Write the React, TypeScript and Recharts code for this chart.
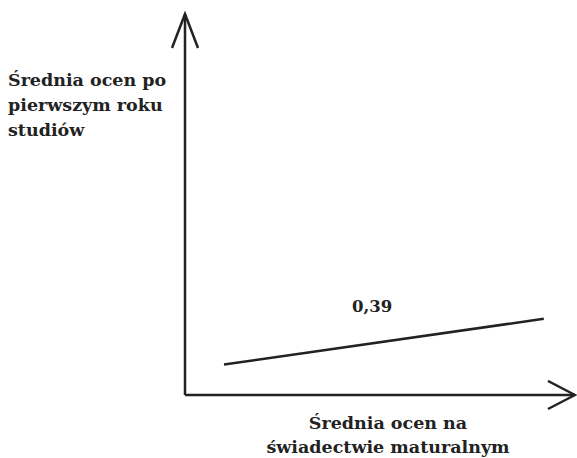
import { LineChart, Line, XAxis, YAxis, ReferenceDot } from 'recharts'

// two ends of the fitted line (arbitrary units)
const xValues = [1, 9.2]
const yValues = [0.8, 2.0]
const coefficient = '0,39'
const coefPos = { x: 4.8, y: 2.05 }

const yTitle = ['Średnia ocen po', 'pierwszym roku', 'studiów']
const xTitle = ['Średnia ocen na', 'świadectwie maturalnym']

const data = xValues.map((x, i) => ({ x, y: yValues[i] }))

const INK = '#222'
const FONT = '"DejaVu Serif", serif'

export default function App() {
    return (
        <div style={{ position: 'absolute', left: 0, top: 0, background: '#fff' }}>
            <LineChart
                width={577}
                height={458}
                data={data}
                margin={{ top: 14, right: 2, bottom: 62, left: 184 }}
            >
                <defs>
                    <marker id="arrowY" markerUnits="userSpaceOnUse" markerWidth={40} markerHeight={40}
                        viewBox="0 0 40 40" refX={35} refY={14} orient="auto-start-reverse">
                        <path d="M1,1 L35,14 L1,27" fill="none" stroke={INK} strokeWidth={2.5} />
                    </marker>
                    <marker id="arrowX" markerUnits="userSpaceOnUse" markerWidth={40} markerHeight={40}
                        viewBox="0 0 40 40" refX={28} refY={15} orient="auto-start-reverse">
                        <path d="M1,1 L28,15 L1,29" fill="none" stroke={INK} strokeWidth={2.5} />
                    </marker>
                </defs>
                <XAxis
                    type="number"
                    dataKey="x"
                    domain={[0, 10]}
                    height={1}
                    tick={false}
                    tickLine={false}
                    axisLine={{ stroke: INK, strokeWidth: 2.5, markerEnd: 'url(#arrowX)' }}
                />
                <YAxis
                    type="number"
                    dataKey="y"
                    domain={[0, 10]}
                    width={1}
                    tick={false}
                    tickLine={false}
                    axisLine={{ stroke: INK, strokeWidth: 2.5, markerStart: 'url(#arrowY)' }}
                />
                <Line
                    type="linear"
                    dataKey="y"
                    stroke={INK}
                    strokeWidth={2.5}
                    dot={false}
                    isAnimationActive={false}
                />
                <ReferenceDot
                    x={coefPos.x}
                    y={coefPos.y}
                    r={0}
                    fill="none"
                    stroke="none"
                    label={{
                        value: coefficient,
                        position: 'top',
                        fill: INK,
                        fontSize: 16.5,
                        fontWeight: 'bold',
                        fontFamily: FONT,
                    }}
                />
                <text x={8} y={86} fill={INK} fontFamily={FONT} fontWeight="bold" fontSize={17.5}>
                    {yTitle.map((t, i) => (
                        <tspan key={i} x={8} dy={i === 0 ? 0 : 25}>{t}</tspan>
                    ))}
                </text>
                <text x={388} y={429} fill={INK} fontFamily={FONT} fontWeight="bold" fontSize={17.5} textAnchor="middle">
                    {xTitle.map((t, i) => (
                        <tspan key={i} x={388} dy={i === 0 ? 0 : 24}>{t}</tspan>
                    ))}
                </text>
            </LineChart>
        </div>
    )
}
